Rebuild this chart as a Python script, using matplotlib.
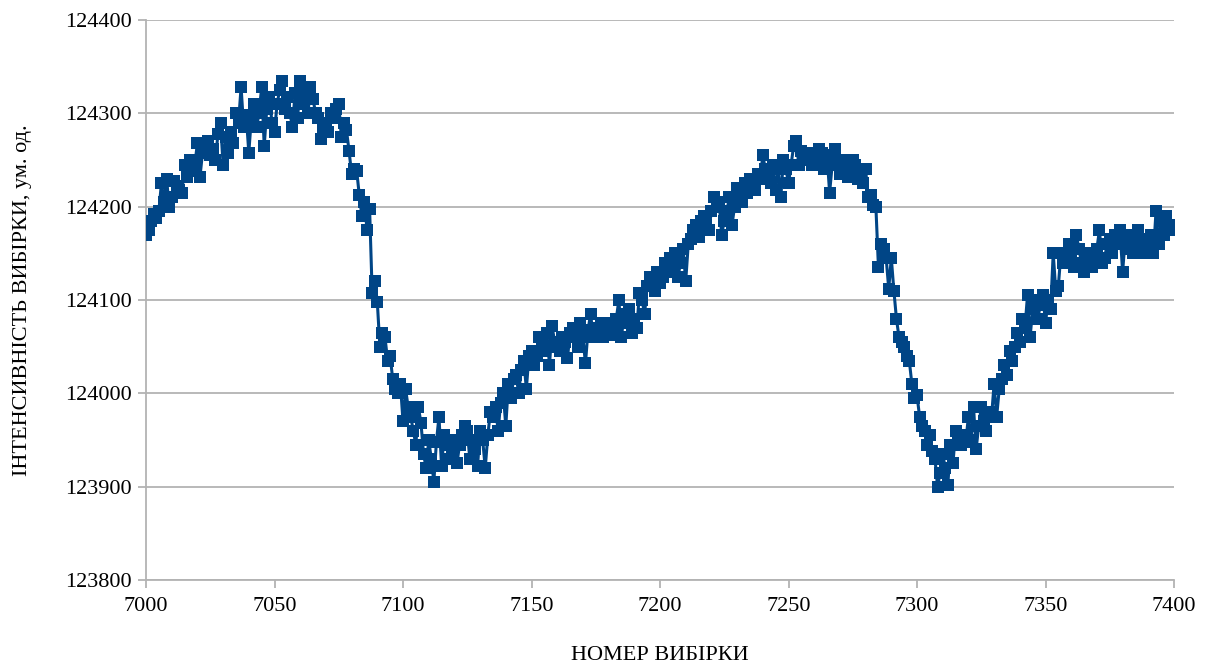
import matplotlib
matplotlib.use('Agg')
import matplotlib.pyplot as plt
import numpy as np

plt.rcParams['font.family'] = ['Liberation Serif', 'DejaVu Serif']
plt.rcParams.update({'font.size': 16})

# номер вибірки 7000..7400
x_start = 7000
intensity = [
    124170, 124175, 124185, 124192, 124188, 124195, 124225, 124205, 124230, 124200,
    124210, 124228, 124222, 124218, 124215, 124245, 124232, 124250, 124238, 124245,
    124268, 124232, 124258, 124265, 124270, 124255, 124262, 124250, 124278, 124290,
    124245, 124275, 124258, 124280, 124268, 124300, 124290, 124328, 124285, 124298,
    124258, 124295, 124310, 124285, 124300, 124328, 124265, 124305, 124318, 124290,
    124280, 124310, 124325, 124335, 124305, 124318, 124300, 124285, 124322, 124295,
    124335, 124310, 124325, 124300, 124328, 124315, 124300, 124295, 124272, 124285,
    124290, 124280, 124300, 124295, 124305, 124310, 124275, 124290, 124282, 124260,
    124235, 124240, 124238, 124212, 124190, 124205, 124175, 124198, 124108, 124120,
    124098, 124050, 124065, 124060, 124035, 124040, 124015, 124005, 124000, 124010,
    123970, 124005, 123985, 123975, 123960, 123945, 123985, 123968, 123935, 123920,
    123950, 123930, 123905, 123948, 123975, 123922, 123955, 123945, 123930, 123940,
    123950, 123925, 123945, 123955, 123965, 123960, 123930, 123950, 123940, 123922,
    123960, 123950, 123920, 123955, 123980, 123975, 123985, 123960, 123990, 124000,
    123965, 124010, 123995, 124015, 124020, 124000, 124025, 124035, 124005, 124040,
    124045, 124030, 124040, 124060, 124050, 124045, 124065, 124030, 124072, 124055,
    124050, 124045, 124060, 124055, 124038, 124065, 124070, 124060, 124050, 124075,
    124060, 124032, 124068, 124085, 124060, 124070, 124065, 124075, 124060, 124070,
    124062, 124075, 124068, 124080, 124100, 124060, 124085, 124075, 124090, 124065,
    124080, 124070, 124108, 124100, 124085, 124115, 124125, 124120, 124110, 124130,
    124118, 124125, 124140, 124135, 124145, 124130, 124150, 124125, 124140, 124155,
    124120, 124160, 124165, 124175, 124180, 124168, 124185, 124190, 124180, 124175,
    124195, 124210, 124200, 124205, 124170, 124185, 124195, 124210, 124180, 124200,
    124220, 124210, 124205, 124225, 124215, 124230, 124222, 124218, 124235, 124230,
    124255, 124240, 124235, 124225, 124245, 124218, 124240, 124210, 124250, 124240,
    124225, 124245, 124265, 124270, 124245, 124260, 124255, 124250, 124258, 124245,
    124255, 124250, 124262, 124258, 124240, 124255, 124215, 124245, 124262, 124250,
    124235, 124245, 124250, 124232, 124240, 124250, 124245, 124230, 124235, 124225,
    124240, 124210, 124212, 124202, 124200, 124135, 124160, 124155, 124145, 124112,
    124145, 124110, 124080, 124060, 124055, 124050, 124040, 124035, 124010, 123995,
    123998, 123975, 123965, 123960, 123945, 123955, 123938, 123930, 123900, 123915,
    123935, 123920, 123902, 123945, 123925, 123960, 123950, 123945, 123955, 123948,
    123975, 123950, 123985, 123940, 123965, 123985, 123970, 123960, 123980, 123975,
    124010, 123975, 124005, 124015, 124030, 124020, 124045, 124035, 124050, 124065,
    124055, 124080, 124070, 124105, 124060, 124090, 124100, 124080, 124095, 124105,
    124075, 124100, 124090, 124150, 124110, 124115, 124150, 124140, 124145, 124160,
    124150, 124135, 124170, 124155, 124140, 124130, 124150, 124148, 124135, 124145,
    124155, 124175, 124140, 124145, 124160, 124165, 124150, 124170, 124160, 124175,
    124130, 124165, 124155, 124170, 124150, 124160, 124175, 124165, 124150, 124160,
    124155, 124170, 124150, 124195, 124160, 124185, 124170, 124190, 124175, 124180,
    124180,
]
sample = np.arange(x_start, x_start + len(intensity))

x_ticks = [7000, 7050, 7100, 7150, 7200, 7250, 7300, 7350, 7400]
y_ticks = [123800, 123900, 124000, 124100, 124200, 124300, 124400]

fig = plt.figure(figsize=(12.11, 6.66), dpi=100, facecolor='w')
ax = fig.add_axes([146/1211, 86/666, 1028/1211, 560/666])

ax.plot(sample, intensity, color='#004586', lw=2.2, marker='s', ms=9,
        markeredgewidth=0, zorder=3)

ax.set_xlim(7000, 7400)
ax.set_ylim(123800, 124400)
ax.set_xticks(x_ticks)
ax.set_yticks(y_ticks)
ax.yaxis.grid(True, color='#b3b3b3', lw=1.3)
ax.set_axisbelow(True)
for s in ['top', 'right']:
    ax.spines[s].set_visible(False)
for s in ['left', 'bottom']:
    ax.spines[s].set_color('#b3b3b3')
    ax.spines[s].set_linewidth(1.3)
ax.tick_params(colors='#b3b3b3', labelcolor='black', length=6, width=1.3,
               labelsize=16)
ax.tick_params(axis='x', pad=6)
ax.tick_params(axis='y', pad=4)

ax.set_xlabel("НОМЕР ВИБІРКИ", fontsize=16, labelpad=22)
ax.set_ylabel("ІНТЕНСИВНІСТЬ ВИБІРКИ, ум. од.", fontsize=16, labelpad=24)

fig.savefig('out.png', dpi=100)
